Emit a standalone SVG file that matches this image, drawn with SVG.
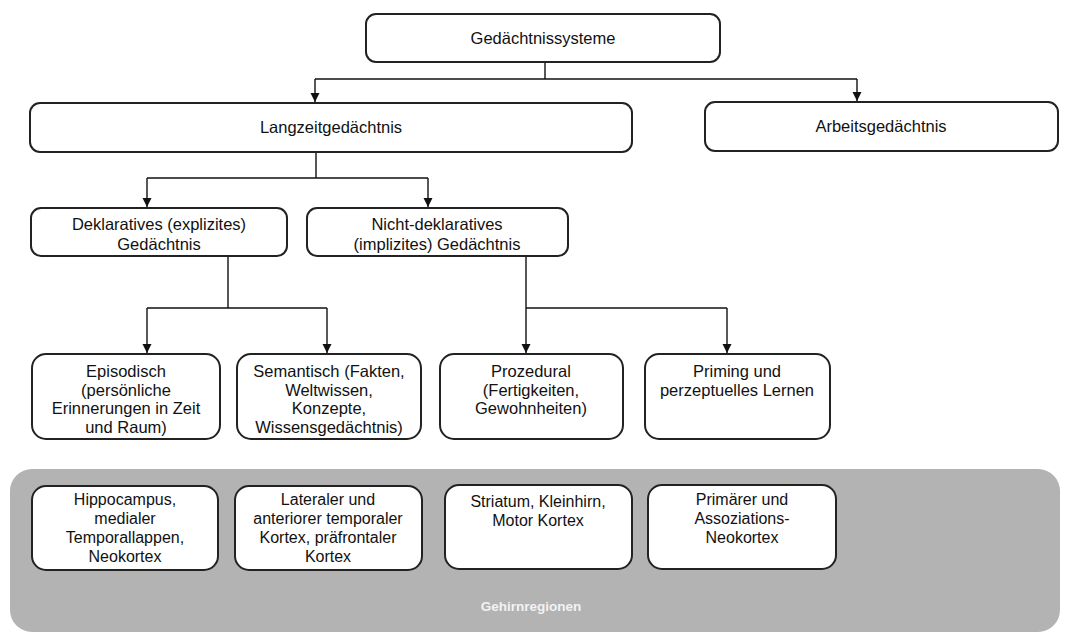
<svg xmlns="http://www.w3.org/2000/svg" width="1067" height="633" viewBox="0 0 1067 633">
<defs>
<marker id="arr" markerUnits="userSpaceOnUse" markerWidth="9" markerHeight="10" refX="9" refY="4.5" orient="auto">
<path d="M0,0 L9,4.5 L0,9 z" fill="#111"/>
</marker>
<style>
.box{fill:#fff;stroke:#222;stroke-width:2}
.t{font-family:"Liberation Sans",Arial,sans-serif;font-size:16.5px;fill:#111;text-anchor:middle}
.s{font-size:16px}
.c{fill:none;stroke:#111;stroke-width:1.4}
</style>
</defs>
<rect x="1" y="0" width="1066" height="633" fill="#fff"/>
<rect x="10" y="469" width="1050" height="163" rx="22" fill="#b3b3b3"/>
<text x="531" y="611" style="font-family:'Liberation Sans',Arial,sans-serif;font-size:13.5px;font-weight:bold;fill:#f2f2f2;text-anchor:middle">Gehirnregionen</text>

<g id="connectors">
<path class="c" d="M545,62 V79"/>
<path class="c" d="M315,79 H857"/>
<path class="c" d="M315,79 V102" marker-end="url(#arr)"/>
<path class="c" d="M857,79 V101" marker-end="url(#arr)"/>
<path class="c" d="M316,152 V178 M147,178 H428"/>
<path class="c" d="M147,178 V207" marker-end="url(#arr)"/>
<path class="c" d="M428,178 V207" marker-end="url(#arr)"/>
<path class="c" d="M228,256 V308 M147,308 H327"/>
<path class="c" d="M147,308 V353" marker-end="url(#arr)"/>
<path class="c" d="M327,308 V353" marker-end="url(#arr)"/>
<path class="c" d="M526,256 V353" marker-end="url(#arr)"/>
<path class="c" d="M526,308 H727"/>
<path class="c" d="M727,308 V353" marker-end="url(#arr)"/>
</g>

<g id="n-gedaechtnissysteme">
<rect class="box" x="366" y="14" width="354" height="48" rx="10"/>
<text class="t" x="543" y="44">Gedächtnissysteme</text>
</g>
<g id="n-langzeit">
<rect class="box" x="30" y="103" width="602" height="49" rx="10"/>
<text class="t" x="331" y="133">Langzeitgedächtnis</text>
</g>
<g id="n-arbeits">
<rect class="box" x="705" y="102" width="353" height="49" rx="10"/>
<text class="t" x="881" y="132">Arbeitsgedächtnis</text>
</g>
<g id="n-deklarativ">
<rect class="box" x="31" y="208" width="256" height="48" rx="10"/>
<text class="t" x="159" y="230">Deklaratives (explizites)</text>
<text class="t" x="159" y="250">Gedächtnis</text>
</g>
<g id="n-nichtdeklarativ">
<rect class="box" x="307" y="208" width="261" height="48" rx="10"/>
<text class="t" x="437" y="230">Nicht-deklaratives</text>
<text class="t" x="437" y="250">(implizites) Gedächtnis</text>
</g>
<g id="n-episodisch">
<rect class="box" x="32" y="354" width="188" height="85" rx="14"/>
<text class="t" x="126" y="377">Episodisch</text>
<text class="t" x="126" y="395.5">(persönliche</text>
<text class="t" x="126" y="414">Erinnerungen in Zeit</text>
<text class="t" x="126" y="432.5">und Raum)</text>
</g>
<g id="n-semantisch">
<rect class="box" x="237" y="354" width="184" height="85" rx="14"/>
<text class="t" x="329" y="377">Semantisch (Fakten,</text>
<text class="t" x="329" y="395.5">Weltwissen,</text>
<text class="t" x="329" y="414">Konzepte,</text>
<text class="t" x="329" y="432.5">Wissensgedächtnis)</text>
</g>
<g id="n-prozedural">
<rect class="box" x="440" y="354" width="183" height="85" rx="14"/>
<text class="t" x="531" y="377">Prozedural</text>
<text class="t" x="531" y="395.5">(Fertigkeiten,</text>
<text class="t" x="531" y="414">Gewohnheiten)</text>
</g>
<g id="n-priming">
<rect class="box" x="645" y="354" width="185" height="85" rx="14"/>
<text class="t" x="737" y="377">Priming und</text>
<text class="t" x="737" y="395.5">perzeptuelles Lernen</text>
</g>
<g id="n-hippocampus">
<rect class="box" x="32" y="486" width="186" height="84" rx="14"/>
<text class="t s" x="125" y="505">Hippocampus,</text>
<text class="t s" x="125" y="524">medialer</text>
<text class="t s" x="125" y="543">Temporallappen,</text>
<text class="t s" x="125" y="562">Neokortex</text>
</g>
<g id="n-lateraler">
<rect class="box" x="235" y="486" width="187" height="84" rx="14"/>
<text class="t s" x="328" y="505">Lateraler und</text>
<text class="t s" x="328" y="524">anteriorer temporaler</text>
<text class="t s" x="328" y="543">Kortex, präfrontaler</text>
<text class="t s" x="328" y="562">Kortex</text>
</g>
<g id="n-striatum">
<rect class="box" x="445" y="485" width="187" height="84" rx="14"/>
<text class="t s" x="538" y="507">Striatum, Kleinhirn,</text>
<text class="t s" x="538" y="526">Motor Kortex</text>
</g>
<g id="n-primaer">
<rect class="box" x="648" y="485" width="188" height="84" rx="14"/>
<text class="t s" x="742" y="505">Primärer und</text>
<text class="t s" x="742" y="524">Assoziations-</text>
<text class="t s" x="742" y="543">Neokortex</text>
</g>
</svg>
